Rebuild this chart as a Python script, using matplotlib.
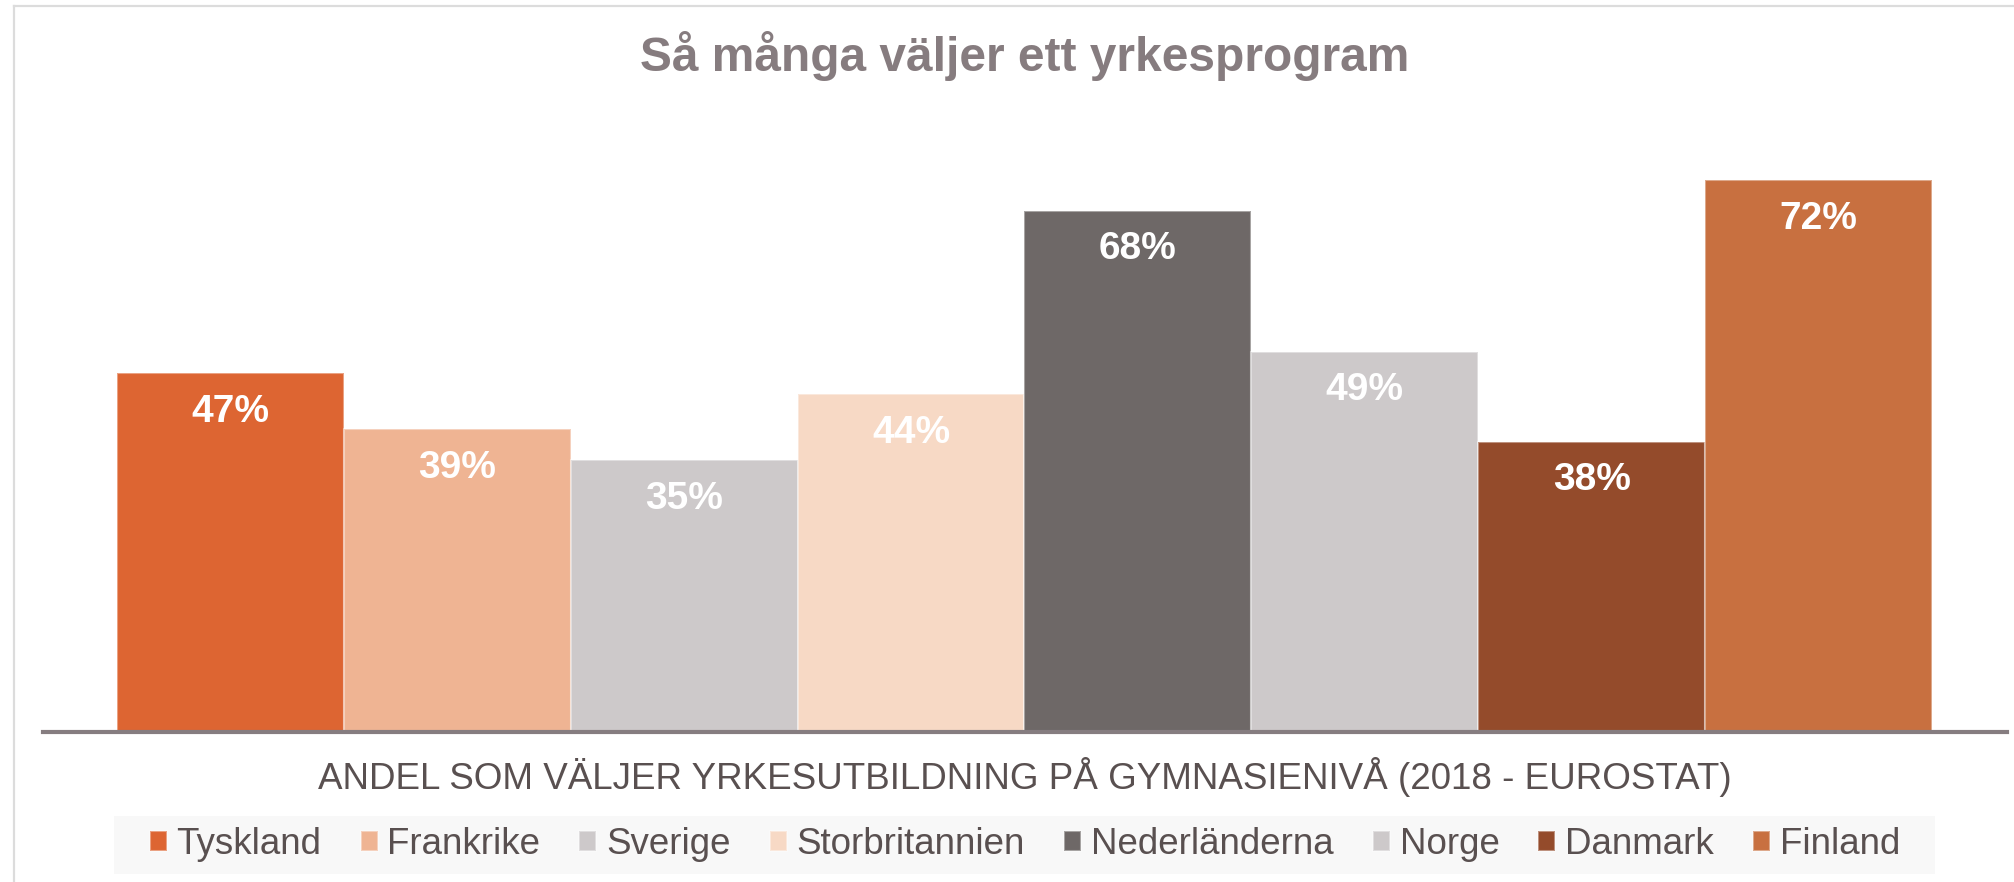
import matplotlib.pyplot as plt
from matplotlib.lines import Line2D
from matplotlib.patches import Rectangle

# Data (bar heights, percent)
countries = ['Tyskland', 'Frankrike', 'Sverige', 'Storbritannien',
             'Nederländerna', 'Norge', 'Danmark', 'Finland']
shares = [46.6, 39.3, 35.3, 43.9, 67.7, 49.4, 37.7, 71.7]
bar_colors = ['#dd6532', '#efb493', '#cdc9ca', '#f7d9c5',
              '#6e6867', '#cdc9ca', '#944b2b', '#c87040']

title = 'Så många väljer ett yrkesprogram'
axis_label = 'ANDEL SOM VÄLJER YRKESUTBILDNING PÅ GYMNASIENIVÅ (2018 - EUROSTAT)'

plt.rcParams['font.family'] = ['Liberation Sans', 'DejaVu Sans']

W, H = 2014, 882
fig = plt.figure(figsize=(W / 100, H / 100), dpi=100)

# axes placed in pixel terms
ax_left, ax_right, ax_bottom, ax_top = 43, 2007, 732, 116
ax = fig.add_axes([ax_left / W, 1 - ax_bottom / H,
                   (ax_right - ax_left) / W, (ax_bottom - ax_top) / H])

x = range(len(countries))
bars = ax.bar(x, shares, width=1.0, color=bar_colors,
              edgecolor=(1, 1, 1, 0.4), linewidth=1.5)

for rect, val in zip(bars.patches, shares):
    ax.annotate(f'{val:.0f}%', (rect.get_x() + rect.get_width() / 2, rect.get_height()),
                xytext=(0, -35), textcoords='offset points',
                ha='center', va='baseline', fontsize=28, fontweight='bold', color='white')

ax.set_xlim(-0.826, 7.831)
ax.set_ylim(0, 80)
ax.set_xticks([])
ax.set_yticks([])
for side in ['top', 'left', 'right']:
    ax.spines[side].set_visible(False)
ax.spines['bottom'].set_color('#867d80')
ax.spines['bottom'].set_linewidth(3)

ax.set_xlabel(axis_label, fontsize=26.5, color='#595050', labelpad=18)

fig.text(1025 / W, 1 - 71 / H, title, ha='center', va='baseline',
         fontsize=34.5, fontweight='bold', color='#867c7f')

# legend with light background band
fig.add_artist(Rectangle((114 / W, 1 - 874 / H), (1935 - 114) / W, 58 / H,
                         transform=fig.transFigure, facecolor='#f8f8f8',
                         edgecolor='none', zorder=0))
fig.legend(bars.patches, countries, loc='center', bbox_to_anchor=(1025 / W, 1 - 845 / H),
           ncol=8, frameon=False, fontsize=26.5, labelcolor='#595050',
           handlelength=0.46, handleheight=0.46, handletextpad=0.27,
           columnspacing=1.06, borderpad=0)

# chart frame (left and top edges visible)
fig.add_artist(Line2D([14 / W, 14 / W], [0, 1 - 6 / H], transform=fig.transFigure,
                      color='#dcdcdc', linewidth=1.6))
fig.add_artist(Line2D([14 / W, 1], [1 - 6 / H, 1 - 6 / H], transform=fig.transFigure,
                      color='#dcdcdc', linewidth=1.6))

fig.savefig('out.png', dpi=100, facecolor='white')
